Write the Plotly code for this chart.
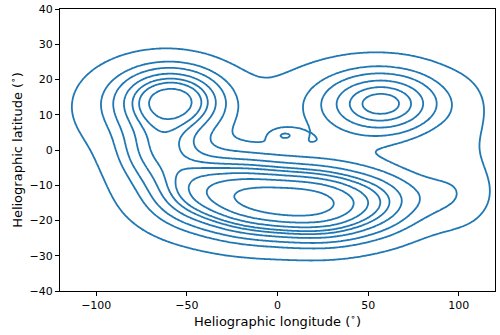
import numpy as np
import plotly.graph_objects as go

# density components: centre (lon, lat), spread, weight
comp_lon = [-58, -68, -65, 58, 55, 4, 7, -45, -20, 30, 55, 0, 0, 92, 105]
comp_lat = [14, 13, 0, 13, 14, 4.2, -15, -11, -13, -16, -15, -13, -2, -13, 0]
comp_sx = [17, 28, 14, 19, 30, 6, 20, 16, 16, 16, 16, 45, 65, 16, 10]
comp_sy = [5.5, 9, 6, 5.5, 7.5, 1.5, 5.5, 6, 6, 6, 6, 9, 17, 6, 12]
comp_w = [0.075, 0.06, 0.035, 0.05, 0.065, 0.0015, 0.12, 0.05, 0.06, 0.05, 0.035, 0.12, 0.10, 0.014, 0.006]

x_ticks = [-100, -50, 0, 50, 100]
y_ticks = [-40, -30, -20, -10, 0, 10, 20, 30, 40]
n_levels = 10
thresh = 0.05

lon = np.linspace(-130, 130, 261)
lat = np.linspace(-45, 45, 181)
X, Y = np.meshgrid(lon, lat)
dens = np.zeros_like(X)
for cx, cy, sx, sy, w in zip(comp_lon, comp_lat, comp_sx, comp_sy, comp_w):
    dens += w / (sx * sy) * np.exp(-0.5 * (((X - cx) / sx) ** 2 + ((Y - cy) / sy) ** 2))

# iso-proportion levels, like seaborn's kdeplot
flat = dens.ravel()
order = np.argsort(flat)[::-1]
cum = np.cumsum(flat[order]) / flat.sum()
mass_above = np.empty_like(flat)
mass_above[order] = cum
prop = (1 - mass_above).reshape(dens.shape)

levels = np.linspace(thresh, 1, n_levels)
step = levels[1] - levels[0]

fig = go.Figure(go.Contour(
    x=lon, y=lat, z=prop,
    contours=dict(coloring="lines", start=levels[0], end=levels[-2] + 1e-6, size=step),
    colorscale=[[0, "#1f77b4"], [1, "#1f77b4"]],
    showscale=False,
    line=dict(width=1.8, smoothing=1),
    hoverinfo="skip",
))

axis_style = dict(showgrid=False, zeroline=False, showline=True, linecolor="black",
                  linewidth=1, mirror=True, ticks="outside", ticklen=4, tickwidth=1,
                  tickcolor="black", automargin=False)
fig.update_xaxes(range=[-120, 120], tickvals=x_ticks,
                 title=dict(text="Heliographic longitude (<sup>∘</sup>)", standoff=4), **axis_style)
fig.update_yaxes(range=[-40, 40], tickvals=y_ticks,
                 title=dict(text="Heliographic latitude (<sup>∘</sup>)", standoff=4), **axis_style)
fig.update_layout(width=500, height=335, margin=dict(l=60, r=5, t=9, b=44),
                  plot_bgcolor="white", paper_bgcolor="white",
                  font=dict(family="DejaVu Sans", size=11, color="black"))
fig.write_html("out.html", config={"displayModeBar": False},
               post_script="document.body.style.margin = '0';")
